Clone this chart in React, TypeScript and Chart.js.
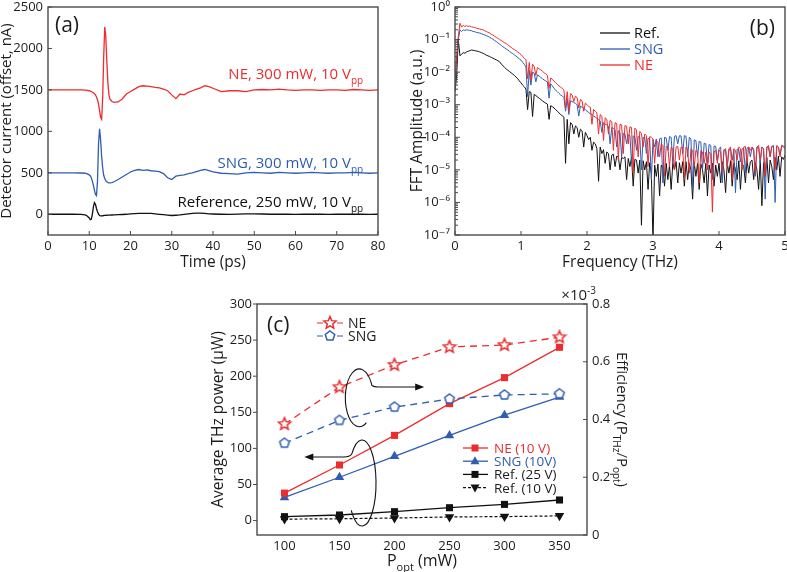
import { useEffect, useRef } from 'react';
import { Chart, registerables } from 'chart.js';

Chart.register(...registerables);

const FONT = '"Open Sans", "DejaVu Sans", sans-serif';
const INK = '#1c1c1c';
const FRAME = '#4a4a4a';
const RED = '#ec2c2e';
const BLUE = '#2f5db3';
const BLACK = '#111111';

// ---------------- Panel (a): time-domain traces ----------------
const timePs = [0, 2, 4, 6, 8, 9, 9.5,
  10, 10.25, 10.5, 10.75, 11, 11.25, 11.5, 11.75, 12, 12.25, 12.5, 12.75, 13, 13.25, 13.5, 13.75, 14, 14.25, 14.5, 14.75, 15,
  15.5, 16,
  17, 18, 19, 20, 21, 22, 23, 24, 25, 26, 27, 28, 29, 30, 31, 32, 33, 34, 35, 36, 37, 38, 39, 40,
  42, 44, 46, 48, 50, 52, 54, 56, 58, 60, 62, 64, 66, 68, 70, 72, 74, 76, 78, 80];
const refCurrentNA = [0, 0, 0, 0, -2, -8, -20,
  -45, -65, -60, 0, 90, 140, 120, 70, 30, 0, -15, -20, -20, -18, -15, -14, -13, -12, -11, -10, -10,
  -9, -8,
  -5, -3, 0, 5, 8, 10, 10, 12, 10, 5, 0, -5, -10, -15, -12, -8, -2, 5, 10, 15, 15, 10, 5, 3,
  0, -2, 2, 5, 5, 3, 0, 2, 0, -2, 0, 2, 0, -2, 0, 2, 0, 0, -2, 0];
const sngCurrentNA = [500, 500, 500, 500, 498, 495, 488,
  475, 462, 440, 400, 350, 290, 240, 225, 400, 850, 1030, 900, 700, 560, 470, 430, 405, 392, 385, 380, 378,
  383, 392,
  420, 450, 480, 510, 530, 540, 530, 535, 525, 520, 515, 490, 440, 420, 460, 470, 475, 490, 500, 515, 530, 540, 525, 510,
  495, 490, 485, 500, 505, 500, 495, 505, 500, 495, 500, 505, 500, 495, 500, 500, 505, 500, 495, 500];
const neCurrentNA = [1500, 1500, 1500, 1500, 1500, 1498, 1495,
  1490, 1485, 1480, 1472, 1465, 1455, 1440, 1415, 1380, 1330, 1250, 1170, 1145, 1400, 1900, 2260, 2150, 1850, 1600, 1450, 1390,
  1360, 1350,
  1355, 1390, 1450, 1480, 1510, 1540, 1550, 1545, 1540, 1530, 1525, 1510, 1490, 1440, 1395, 1450, 1440, 1470, 1490, 1510, 1525, 1550, 1540, 1520,
  1480, 1490, 1490, 1480, 1500, 1505, 1500, 1510, 1500, 1495, 1500, 1500, 1495, 1500, 1500, 1495, 1505, 1500, 1495, 1500];
const aTimeTicks = [0, 10, 20, 30, 40, 50, 60, 70, 80];
const aCurrentTicks = [0, 500, 1000, 1500, 2000, 2500];
const traceLabelText = ['NE, 300 mW, 10 V', 'SNG, 300 mW, 10 V', 'Reference, 250 mW, 10 V'];
const traceLabelBaseNA = [1630, 555, 85];
const traceLabelRightPs = 76.4;

// ---------------- Panel (b): FFT spectra (log10 amplitude, 0.025 THz steps) ----------------
const freqStepTHz = 0.025;
const bFreqTicks = [0, 1, 2, 3, 4, 5];
const refSpectrumLog10 = [
  -2.6, -2.1, -1.0, -1.5, -1.45, -1.4, -1.42, -1.38, -1.36, -1.34, -1.32, -1.33, -1.34, -1.35, -1.36, -1.38, -1.4, -1.42, -1.45, -1.48,
  -1.5, -1.52, -1.55, -1.57, -1.6, -1.62, -1.65, -1.68, -1.75, -1.8, -1.85, -1.9, -1.94, -1.98, -2.02, -2.06, -2.1, -2.15, -2.2, -2.27,
  -2.33, -2.4, -2.45, -2.52, -3.15, -2.6, -2.62, -3.36, -2.68, -2.72, -2.76, -2.8, -2.84, -2.88, -2.92, -2.95, -2.98, -3.45, -3.03, -3.06,
  -3.1, -3.15, -3.2, -3.25, -3.3, -3.34, -3.38, -4.8, -3.45, -4.2, -3.55, -3.6, -3.9, -3.65, -3.7, -4.0, -3.75, -3.8, -4.3, -3.85,
  -3.95, -4.07, -4.0, -4.4, -4.15, -4.2, -4.35, -5.35, -4.3, -4.5, -4.38, -4.8, -4.45, -4.5, -5.0, -4.55, -4.52, -4.9, -4.58, -4.6,
  -5.0, -4.62, -4.65, -4.6, -5.3, -4.65, -4.9, -4.62, -5.5, -4.68, -4.7, -5.1, -4.7, -6.7, -4.72, -5.0, -4.75, -5.6, -4.78, -5.1,
  -7.2, -4.85, -5.2, -4.82, -5.8, -4.85, -4.95, -5.5, -4.8, -5.3, -4.85, -5.6, -4.8, -5.0, -4.75, -5.4, -4.78, -5.1, -4.75, -5.5,
  -4.75, -5.3, -4.8, -5.0, -5.9, -4.78, -5.2, -4.8, -5.6, -4.82, -5.0, -5.4, -4.8, -5.8, -4.85, -5.1, -4.8, -5.5, -4.85, -5.2,
  -4.8, -5.4, -4.75, -5.0, -5.7, -4.8, -5.1, -4.72, -5.5, -4.8, -5.0, -5.3, -4.72, -5.6, -4.8, -4.9, -5.4, -4.7, -5.1, -4.75,
  -4.7, -5.3, -4.78, -5.0, -5.6, -4.7, -6.1, -4.78, -5.2, -4.62, -5.4, -4.7, -4.9, -5.3, -4.62, -5.0, -4.58, -5.2, -4.6, -4.68, -4.55];
const sngSpectrumLog10 = [
  -2.5, -1.6, -1.0, -0.7, -0.75, -0.7, -0.72, -0.7, -0.71, -0.72, -0.73, -0.75, -0.76, -0.78, -0.79, -0.8, -0.82, -0.84, -0.86, -0.88,
  -0.9, -0.93, -0.96, -0.99, -1.03, -1.06, -1.1, -1.14, -1.18, -1.22, -1.25, -1.29, -1.32, -1.36, -1.4, -1.43, -1.47, -1.51, -1.55, -1.59,
  -1.63, -1.7, -1.76, -1.84, -2.75, -1.95, -2.4, -2.0, -2.03, -2.3, -2.08, -2.12, -2.16, -2.2, -2.24, -2.27, -2.3, -2.8, -2.36, -2.42,
  -2.5, -2.55, -2.6, -2.65, -2.7, -2.73, -2.78, -3.2, -2.82, -3.3, -2.88, -2.9, -2.93, -2.96, -3.0, -3.35, -3.04, -3.08, -3.12, -3.15,
  -3.2, -3.24, -3.28, -3.3, -3.35, -3.38, -3.42, -3.46, -3.5, -3.85, -3.55, -3.6, -3.62, -3.66, -4.2, -3.7, -3.73, -3.76, -4.3, -3.8,
  -3.85, -4.6, -3.88, -3.9, -4.2, -3.92, -3.95, -4.8, -3.96, -3.97, -4.4, -3.98, -4.0, -5.0, -4.0, -4.02, -4.5, -4.03, -4.05, -5.3,
  -4.07, -4.3, -4.05, -4.6, -4.05, -4.02, -5.4, -4.0, -4.02, -4.4, -3.98, -4.0, -4.8, -3.97, -3.95, -4.2, -3.95, -3.96, -4.5, -3.95,
  -3.97, -4.6, -4.0, -4.05, -5.6, -4.08, -4.1, -4.6, -4.12, -4.15, -5.0, -4.18, -4.2, -4.8, -4.22, -4.25, -5.3, -4.27, -4.28, -4.7,
  -4.35, -4.3, -5.4, -4.38, -4.4, -4.9, -4.38, -4.35, -4.7, -4.38, -5.7, -4.36, -4.38, -4.75, -4.35, -4.36, -5.1, -4.33, -4.3, -4.6,
  -4.32, -4.4, -5.2, -4.3, -4.32, -4.8, -4.3, -4.35, -5.9, -4.3, -4.3, -4.6, -4.28, -4.25, -6.0, -4.28, -4.3, -4.55, -4.25, -4.27, -4.3];
const neSpectrumLog10 = [
  -2.3, -1.5, -0.9, -0.5, -0.62, -0.56, -0.6, -0.57, -0.6, -0.58, -0.61, -0.62, -0.63, -0.65, -0.66, -0.68, -0.69, -0.7, -0.73, -0.75,
  -0.78, -0.8, -0.84, -0.86, -0.9, -0.93, -0.96, -1.0, -1.03, -1.06, -1.1, -1.12, -1.16, -1.2, -1.24, -1.28, -1.31, -1.34, -1.38, -1.42,
  -1.46, -1.52, -1.57, -1.62, -2.2, -1.7, -2.25, -1.76, -1.82, -2.1, -1.86, -1.9, -1.93, -1.97, -2.02, -2.05, -2.1, -2.5, -2.18, -2.22,
  -2.28, -2.32, -2.38, -2.42, -2.46, -2.5, -2.55, -3.1, -2.6, -3.2, -2.66, -2.7, -2.9, -2.74, -2.78, -3.1, -2.84, -2.88, -3.2, -2.95,
  -3.0, -3.05, -3.08, -3.6, -3.15, -3.2, -3.25, -3.9, -3.3, -3.35, -4.1, -3.4, -3.45, -3.9, -3.48, -3.52, -4.4, -3.55, -3.58, -4.7,
  -3.6, -3.62, -4.5, -3.64, -3.66, -4.2, -3.68, -3.7, -5.1, -3.72, -3.78, -4.6, -3.82, -3.88, -4.3, -3.9, -3.95, -4.9, -3.98, -4.0,
  -4.05, -4.8, -4.1, -4.15, -4.6, -4.2, -4.25, -5.2, -4.28, -4.3, -4.9, -4.3, -4.35, -5.0, -4.3, -4.28, -4.7, -4.3, -4.32, -5.3,
  -4.3, -4.4, -5.1, -4.35, -4.4, -4.9, -4.4, -4.45, -5.4, -4.4, -4.45, -4.8, -4.45, -5.0, -4.45, -4.5, -6.3, -4.45, -4.4, -4.8,
  -4.4, -4.45, -5.1, -4.4, -4.35, -4.9, -4.35, -4.3, -5.3, -4.35, -4.4, -4.7, -4.3, -4.35, -5.0, -4.3, -4.28, -4.8, -4.3, -4.4,
  -4.3, -4.35, -5.1, -4.3, -4.25, -4.7, -4.3, -4.35, -5.2, -4.3, -4.25, -4.6, -4.28, -4.3, -5.0, -4.25, -4.3, -4.6, -4.25, -4.3, -4.35];
const spectrumLegend = ['Ref.', 'SNG', 'NE'];

// ---------------- Panel (c): power and efficiency ----------------
const pOptMW = [100, 150, 200, 250, 300, 350];
const neTHzPowerUW = [38, 77, 118, 162, 198, 240];
const sngTHzPowerUW = [32, 60, 89, 118, 146, 171];
const ref25THzPowerUW = [5.4, 7.7, 12.3, 17.8, 22.4, 28.5];
const ref10THzPowerUW = [2, 2.5, 3.5, 5, 5.5, 6.5];
const neEfficiencyE3 = [0.384, 0.512, 0.589, 0.651, 0.658, 0.685];
const sngEfficiencyE3 = [0.318, 0.397, 0.443, 0.471, 0.485, 0.489];
const cPoptTicks = [100, 150, 200, 250, 300, 350];
const cPowerTicks = [0, 50, 100, 150, 200, 250, 300];
const cEffTicks = [0, 0.2, 0.4, 0.6, 0.8];
const effLegend = ['NE', 'SNG'];
const powerLegend = ['NE (10 V)', 'SNG (10V)', 'Ref. (25 V)', 'Ref. (10 V)'];

// ---------------- helpers ----------------
type Seg = { t: string; sub?: boolean; sup?: boolean };

function drawRich(ctx: CanvasRenderingContext2D, segs: Seg[], x: number, y: number, size: number, color: string, align: 'left' | 'center' | 'right') {
  ctx.save();
  ctx.fillStyle = color;
  ctx.textBaseline = 'alphabetic';
  ctx.textAlign = 'left';
  const small = Math.round(size * 0.68);
  const fontOf = (s: Seg) => `${s.sub || s.sup ? small : size}px ${FONT}`;
  const widths = segs.map((s) => { ctx.font = fontOf(s); return ctx.measureText(s.t).width; });
  const total = widths.reduce((a, b) => a + b, 0);
  let cx = align === 'left' ? x : align === 'right' ? x - total : x - total / 2;
  segs.forEach((s, i) => {
    ctx.font = fontOf(s);
    const dy = s.sub ? size * 0.3 : s.sup ? -size * 0.42 : 0;
    ctx.fillText(s.t, cx, y + dy);
    cx += widths[i];
  });
  ctx.restore();
}

function fixBox(w?: number, h?: number) {
  return (s: any) => {
    if (w !== undefined) s.width = w;
    if (h !== undefined) s.height = h;
    s.paddingTop = 0; s.paddingBottom = 0; s.paddingLeft = 0; s.paddingRight = 0;
  };
}

function useTicks(values: number[]) {
  return (scale: any) => {
    scale.ticks = values.map((value) => ({ value }));
  };
}

const plainNum = (v: any) => String(parseFloat(Number(v).toFixed(4)));
const SUP: Record<string, string> = { '-': '\u207B', '0': '\u2070', '1': '\u00B9', '2': '\u00B2', '3': '\u00B3', '4': '\u2074', '5': '\u2075', '6': '\u2076', '7': '\u2077', '8': '\u2078', '9': '\u2079' };
const isPow10 = (v: number) => Math.abs(Math.log10(v) - Math.round(Math.log10(v))) < 1e-6;
const pow10Label = (v: any) => {
  const n = Number(v);
  if (!isPow10(n)) return '';
  const e = Math.round(Math.log10(n));
  return '10' + String(e).split('').map((c) => SUP[c]).join('');
};

type TickSpec = { id: string; side: 'left' | 'right' | 'bottom'; dir: 1 | -1; major: number; minor?: number };
function frameTicks(specs: TickSpec[]) {
  return {
    id: 'frameTicks',
    afterDatasetsDraw(chart: any) {
      const { ctx, chartArea: a } = chart;
      ctx.save();
      ctx.strokeStyle = FRAME;
      ctx.lineWidth = 1.4;
      ctx.strokeRect(a.left, a.top, a.right - a.left, a.bottom - a.top);
      ctx.lineWidth = 1;
      specs.forEach((sp) => {
        const s = chart.scales[sp.id];
        s.ticks.forEach((t: any) => {
          const major = s.type === 'logarithmic' ? isPow10(t.value) : true;
          const len = major ? sp.major : sp.minor || 0;
          if (!len) return;
          const p = s.getPixelForValue(t.value);
          ctx.beginPath();
          if (sp.side === 'bottom') { ctx.moveTo(p, a.bottom); ctx.lineTo(p, a.bottom - sp.dir * len); }
          else if (sp.side === 'left') { ctx.moveTo(a.left, p); ctx.lineTo(a.left + sp.dir * len, p); }
          else { ctx.moveTo(a.right, p); ctx.lineTo(a.right - sp.dir * len, p); }
          ctx.stroke();
        });
      });
      ctx.restore();
    },
  };
}

const tickFont = { family: FONT, size: 13 };
const titleFont = { family: FONT, size: 15.5 };
const baseOptions = {
  responsive: false,
  maintainAspectRatio: false,
  animation: false as const,
  devicePixelRatio: 1,
  events: [] as any[],
  plugins: { legend: { display: false }, tooltip: { enabled: false } },
};
const noGrid = { display: false, drawTicks: false };
const noBorder = { display: false };

function makePolygon(points: number, outer: number, inner: number, color: string, size: number) {
  const c = document.createElement('canvas');
  c.width = size; c.height = size;
  const g = c.getContext('2d')!;
  const cx = size / 2, cy = size / 2;
  g.beginPath();
  const n = inner > 0 ? points * 2 : points;
  for (let i = 0; i < n; i++) {
    const ang = -Math.PI / 2 + (i * 2 * Math.PI) / n;
    const r = inner > 0 && i % 2 === 1 ? inner : outer;
    const px = cx + r * Math.cos(ang), py = cy + r * Math.sin(ang);
    if (i === 0) g.moveTo(px, py); else g.lineTo(px, py);
  }
  g.closePath();
  g.fillStyle = '#ffffff';
  g.fill();
  g.strokeStyle = color;
  g.lineWidth = 1.5;
  g.stroke();
  return c;
}

// ---------------- chart builders ----------------
function buildA(): any {
  const pts = (ys: number[]) => timePs.map((x, i) => ({ x, y: ys[i] }));
  const line = (ys: number[], color: string) => ({ data: pts(ys), borderColor: color, borderWidth: 1.3, pointRadius: 0, tension: 0, fill: false });
  const decor = {
    id: 'decorA',
    afterDraw(chart: any) {
      const { ctx, chartArea: a, scales } = chart;
      const colors = [RED, BLUE, BLACK];
      traceLabelText.forEach((txt, i) => {
        drawRich(ctx, [{ t: txt }, { t: 'pp', sub: true }], scales.x.getPixelForValue(traceLabelRightPs), scales.y.getPixelForValue(traceLabelBaseNA[i]), 15, colors[i], 'right');
      });
      drawRich(ctx, [{ t: '(a)' }], a.left + 7, a.top + 25, 21, INK, 'left');
    },
  };
  return {
    type: 'line',
    data: { datasets: [line(neCurrentNA, RED), line(sngCurrentNA, BLUE), line(refCurrentNA, BLACK)] },
    options: {
      ...baseOptions,
      layout: { padding: { top: 7, right: 22, left: 0, bottom: 0 } },
      scales: {
        x: {
          type: 'linear', min: 0, max: 80, grid: noGrid, border: noBorder,
          afterBuildTicks: useTicks(aTimeTicks),
          ticks: { color: INK, font: tickFont, padding: 3, maxRotation: 0, autoSkip: false, callback: plainNum },
          title: { display: true, text: 'Time (ps)', color: INK, font: titleFont, padding: { top: 0, bottom: 0 } },
          afterFit: fixBox(undefined, 37),
        },
        y: {
          type: 'linear', min: -250, max: 2500, grid: noGrid, border: noBorder,
          afterBuildTicks: useTicks(aCurrentTicks),
          ticks: { color: INK, font: tickFont, padding: 5, autoSkip: false, callback: plainNum },
          title: { display: true, text: 'Detector current (offset, nA)', color: INK, font: { family: FONT, size: 15, lineHeight: 0.85 }, padding: { top: 0, bottom: 0 } },
          afterFit: fixBox(48),
        },
      },
    },
    plugins: [frameTicks([{ id: 'x', side: 'bottom', dir: 1, major: 4 }, { id: 'y', side: 'left', dir: 1, major: 4 }]), decor],
  };
}

function buildB(): any {
  const pts = (logs: number[]) => logs.map((v, i) => ({ x: i * freqStepTHz, y: Math.pow(10, v) }));
  const colors = [BLACK, BLUE, RED];
  const series = [refSpectrumLog10, sngSpectrumLog10, neSpectrumLog10];
  const decor = {
    id: 'decorB',
    afterDraw(chart: any) {
      const { ctx, chartArea: a } = chart;
      spectrumLegend.forEach((lab, i) => {
        const y = a.top + 26 + i * 16;
        ctx.save();
        ctx.strokeStyle = colors[i];
        ctx.lineWidth = 1.3;
        ctx.beginPath(); ctx.moveTo(a.left + 145, y); ctx.lineTo(a.left + 175, y); ctx.stroke();
        ctx.restore();
        drawRich(ctx, [{ t: lab }], a.left + 179, y + 5, 14.5, colors[i], 'left');
      });
      drawRich(ctx, [{ t: '(b)' }], a.right - 10, a.top + 28, 21, INK, 'right');
    },
  };
  return {
    type: 'line',
    data: {
      datasets: series.map((s, i) => ({ label: spectrumLegend[i], data: pts(s), borderColor: colors[i], borderWidth: 1, pointRadius: 0, tension: 0, fill: false, order: 3 - i })),
    },
    options: {
      ...baseOptions,
      layout: { padding: { top: 7, right: 2, left: 0, bottom: 0 } },
      scales: {
        x: {
          type: 'linear', min: 0, max: 5, grid: noGrid, border: noBorder,
          afterBuildTicks: useTicks(bFreqTicks),
          ticks: { color: INK, font: tickFont, padding: 3, maxRotation: 0, autoSkip: false, callback: plainNum },
          title: { display: true, text: 'Frequency (THz)', color: INK, font: titleFont, padding: { top: 0, bottom: 0 } },
          afterFit: fixBox(undefined, 37),
        },
        y: {
          type: 'logarithmic', min: 1e-7, max: 1, grid: noGrid, border: noBorder,
          afterBuildTicks: (scale: any) => {
            scale.ticks = scale.ticks.filter((t: any) => {
              const m = t.value / Math.pow(10, Math.floor(Math.log10(t.value) + 1e-9));
              return Math.abs(m - Math.round(m)) < 1e-6;
            });
          },
          ticks: { autoSkip: false, color: INK, font: tickFont, padding: 5, callback: pow10Label },
          title: { display: true, text: 'FFT Amplitude (a.u.)', color: INK, font: titleFont, padding: { top: 8, bottom: 0 } },
          afterFit: fixBox(55),
        },
      },
    },
    plugins: [frameTicks([{ id: 'x', side: 'bottom', dir: 1, major: 4 }, { id: 'y', side: 'left', dir: 1, major: 5, minor: 3 }]), decor],
  };
}

function buildC(): any {
  const starImg = makePolygon(5, 6.4, 2.9, RED, 16);
  const pentImg = makePolygon(5, 5, 0, BLUE, 14);
  const pts = (ys: number[]) => pOptMW.map((x, i) => ({ x, y: ys[i] }));
  const datasets = [
    { data: pts(neEfficiencyE3), yAxisID: 'y2', borderColor: RED, borderWidth: 1.3, borderDash: [7, 5], pointStyle: starImg, pointRadius: 8, tension: 0, fill: false },
    { data: pts(sngEfficiencyE3), yAxisID: 'y2', borderColor: BLUE, borderWidth: 1.3, borderDash: [7, 5], pointStyle: pentImg, pointRadius: 7, tension: 0, fill: false },
    { data: pts(neTHzPowerUW), yAxisID: 'y', borderColor: RED, borderWidth: 1.3, pointStyle: 'rect', pointRadius: 5, pointBackgroundColor: RED, pointBorderColor: RED, pointBorderWidth: 0, tension: 0, fill: false },
    { data: pts(sngTHzPowerUW), yAxisID: 'y', borderColor: BLUE, borderWidth: 1.3, pointStyle: 'triangle', pointRadius: 5.5, pointBackgroundColor: BLUE, pointBorderColor: BLUE, pointBorderWidth: 0, tension: 0, fill: false },
    { data: pts(ref25THzPowerUW), yAxisID: 'y', borderColor: BLACK, borderWidth: 1.3, pointStyle: 'rect', pointRadius: 5, pointBackgroundColor: BLACK, pointBorderColor: BLACK, pointBorderWidth: 0, tension: 0, fill: false },
    { data: pts(ref10THzPowerUW), yAxisID: 'y', borderColor: BLACK, borderWidth: 1.2, borderDash: [3, 2], pointStyle: 'triangle', pointRotation: 180, pointRadius: 5.5, pointBackgroundColor: BLACK, pointBorderColor: BLACK, pointBorderWidth: 0, tension: 0, fill: false },
  ];

  const drawArrowHead = (ctx: CanvasRenderingContext2D, x: number, y: number, dir: 1 | -1) => {
    ctx.beginPath();
    ctx.moveTo(x, y);
    ctx.lineTo(x - dir * 9, y - 3.5);
    ctx.lineTo(x - dir * 9, y + 3.5);
    ctx.closePath();
    ctx.fill();
  };

  const decor = {
    id: 'decorC',
    afterDraw(chart: any) {
      const { ctx, chartArea: a, scales } = chart;
      const sx = scales.x, sy = scales.y;
      ctx.save();
      ctx.strokeStyle = BLACK;
      ctx.fillStyle = BLACK;
      ctx.lineWidth = 1.1;
      {
        const cx = sx.getPixelForValue(168), cy = sy.getPixelForValue(170);
        const rx = Math.abs(sx.getPixelForValue(180.7) - cx), ry = Math.abs(sy.getPixelForValue(210) - cy);
        ctx.beginPath();
        ctx.ellipse(cx, cy, rx, ry, 0, 0.33 * Math.PI, 1.86 * Math.PI);
        const ex = cx + rx * Math.cos(1.86 * Math.PI), ey = cy + ry * Math.sin(1.86 * Math.PI);
        const ay = sy.getPixelForValue(185);
        ctx.moveTo(ex, ey);
        ctx.quadraticCurveTo(ex + 2, ay, ex + 6, ay);
        const ax = sx.getPixelForValue(227);
        ctx.lineTo(ax - 8, ay);
        ctx.stroke();
        drawArrowHead(ctx, ax, ay, 1);
      }
      {
        const cx = sx.getPixelForValue(170.5), cy = sy.getPixelForValue(52);
        const rx = Math.abs(sx.getPixelForValue(183.2) - cx), ry = Math.abs(sy.getPixelForValue(111.6) - cy);
        const a0 = 1.235 * Math.PI, a1 = 2.78 * Math.PI;
        ctx.beginPath();
        ctx.ellipse(cx, cy, rx, ry, 0, a0, a1);
        ctx.stroke();
        const sx0 = cx + rx * Math.cos(a0), sy0 = cy + ry * Math.sin(a0);
        const ax = sx.getPixelForValue(118);
        ctx.beginPath();
        ctx.moveTo(sx0, sy0);
        ctx.quadraticCurveTo(sx0 - 2, sy0 + 3, sx0 - 8, sy0 + 3);
        ctx.lineTo(ax + 8, sy0 + 3);
        ctx.stroke();
        drawArrowHead(ctx, ax, sy0 + 3, -1);
      }
      ctx.restore();

      // top-left legend (efficiency)
      const effColors = [RED, BLUE];
      const effImgs = [starImg, pentImg];
      effLegend.forEach((lab, i) => {
        const y = a.top + 19 + i * 13;
        ctx.save();
        ctx.strokeStyle = effColors[i];
        ctx.lineWidth = 1.2;
        ctx.setLineDash([6, 4]);
        ctx.beginPath(); ctx.moveTo(a.left + 60, y); ctx.lineTo(a.left + 87, y); ctx.stroke();
        ctx.setLineDash([]);
        const img = effImgs[i];
        ctx.drawImage(img, a.left + 73 - img.width / 2, y - img.height / 2);
        ctx.restore();
        drawRich(ctx, [{ t: lab }], a.left + 91, y + 5, 14, INK, 'left');
      });

      // bottom-right legend (power)
      const pColors = [RED, BLUE, BLACK, BLACK];
      const pText = [RED, BLUE, INK, INK];
      const kinds = ['rect', 'tri', 'rect', 'tridown'];
      powerLegend.forEach((lab, i) => {
        const y = a.top + 144 + i * 13.2;
        ctx.save();
        ctx.strokeStyle = pColors[i];
        ctx.fillStyle = pColors[i];
        ctx.lineWidth = 1.3;
        if (i === 3) ctx.setLineDash([3, 2]);
        ctx.beginPath(); ctx.moveTo(a.left + 206, y); ctx.lineTo(a.left + 231, y); ctx.stroke();
        ctx.setLineDash([]);
        const mx = a.left + 218;
        ctx.beginPath();
        if (kinds[i] === 'rect') ctx.rect(mx - 3.5, y - 3.5, 7, 7);
        else if (kinds[i] === 'tri') { ctx.moveTo(mx, y - 5); ctx.lineTo(mx + 4.5, y + 3); ctx.lineTo(mx - 4.5, y + 3); ctx.closePath(); }
        else { ctx.moveTo(mx, y + 5); ctx.lineTo(mx + 4.5, y - 3); ctx.lineTo(mx - 4.5, y - 3); ctx.closePath(); }
        ctx.fill();
        ctx.restore();
        drawRich(ctx, [{ t: lab }], a.left + 237, y + 5, 13.5, pText[i], 'left');
      });

      drawRich(ctx, [{ t: '(c)' }], a.left + 10, a.top + 28, 21, INK, 'left');
      drawRich(ctx, [{ t: 'P' }, { t: 'opt', sub: true }, { t: ' (mW)' }], (a.left + a.right) / 2, a.bottom + 31, 16, INK, 'center');
      drawRich(ctx, [{ t: '\u00D710' }, { t: '-3', sup: true }], a.right + 9, a.top - 4, 15, INK, 'right');
      ctx.save();
      ctx.translate(a.right + 35, (a.top + a.bottom) / 2);
      ctx.rotate(Math.PI / 2);
      drawRich(ctx, [{ t: 'Efficiency (P' }, { t: 'THz', sub: true }, { t: '/P' }, { t: 'opt', sub: true }, { t: ')' }], 0, 5, 15, INK, 'center');
      ctx.restore();
    },
  };

  return {
    type: 'line',
    data: { datasets },
    options: {
      ...baseOptions,
      layout: { padding: { top: 29, right: 0, left: 0, bottom: 0 } },
      scales: {
        x: {
          type: 'linear', min: 75, max: 375, grid: noGrid, border: noBorder,
          afterBuildTicks: useTicks(cPoptTicks),
          ticks: { color: INK, font: tickFont, padding: 3, maxRotation: 0, autoSkip: false, callback: plainNum },
          title: { display: false },
          afterFit: fixBox(undefined, 37),
        },
        y: {
          type: 'linear', position: 'left', min: -20, max: 300, grid: noGrid, border: noBorder,
          afterBuildTicks: useTicks(cPowerTicks),
          ticks: { color: INK, font: tickFont, padding: 5, autoSkip: false, callback: plainNum },
          title: { display: true, text: 'Average THz power (\u03BCW)', color: INK, font: titleFont, padding: { top: 9, bottom: 0 } },
          afterFit: fixBox(57),
        },
        y2: {
          type: 'linear', position: 'right', min: 0, max: 0.8, grid: noGrid, border: noBorder,
          afterBuildTicks: useTicks(cEffTicks),
          ticks: { color: INK, font: tickFont, padding: 5, autoSkip: false, callback: plainNum },
          title: { display: false },
          afterFit: fixBox(53),
        },
      },
    },
    plugins: [frameTicks([{ id: 'y', side: 'left', dir: -1, major: 4 }, { id: 'y2', side: 'right', dir: 1, major: 4 }]), decor],
  };
}

function ChartCanvas({ left, top, width, height, build }: { left: number; top: number; width: number; height: number; build: () => any }) {
  const ref = useRef<HTMLCanvasElement | null>(null);
  useEffect(() => {
    if (!ref.current) return;
    const chart = new Chart(ref.current, build());
    return () => chart.destroy();
  }, [build]);
  return (
    <canvas
      ref={ref}
      width={width}
      height={height}
      style={{ position: 'absolute', left, top, width, height, display: 'block' }}
    />
  );
}

export default function App() {
  return (
    <div style={{ position: 'absolute', left: 0, top: 0, width: 787, height: 572, background: '#ffffff', overflow: 'hidden' }}>
      <ChartCanvas left={0} top={0} width={400} height={272} build={buildA} />
      <ChartCanvas left={400} top={0} width={387} height={272} build={buildB} />
      <ChartCanvas left={200} top={275} width={440} height={297} build={buildC} />
    </div>
  );
}
